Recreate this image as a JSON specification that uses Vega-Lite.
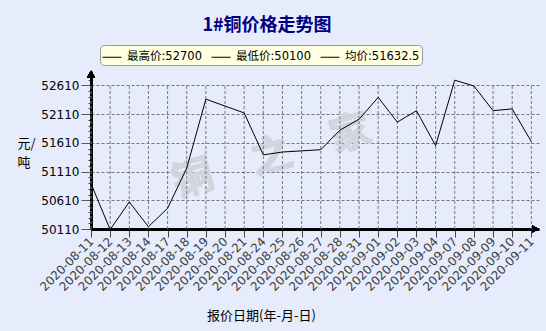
{
  "$schema": "https://vega.github.io/schema/vega-lite/v6.json",
  "width": 448,
  "height": 158,
  "autosize": {"type": "none"},
  "padding": {"left": 91, "top": 71, "right": 7, "bottom": 102},
  "background": "#e6ecfb",
  "config": {
    "view": {"stroke": null},
    "font": "DejaVu Sans, Noto Sans CJK SC"
  },
  "title": {
    "text": "1#铜价格走势图",
    "font": "Noto Sans CJK SC",
    "fontSize": 18,
    "fontWeight": "bold",
    "color": "#000080",
    "anchor": "middle",
    "dx": -48,
    "offset": 10
  },
  "data": {
    "values": [
      {"date": "2020-08-11", "price": 50900},
      {"date": "2020-08-12", "price": 50100},
      {"date": "2020-08-13", "price": 50580},
      {"date": "2020-08-14", "price": 50150},
      {"date": "2020-08-17", "price": 50470},
      {"date": "2020-08-18", "price": 51170},
      {"date": "2020-08-19", "price": 52370},
      {"date": "2020-08-20", "price": 52250},
      {"date": "2020-08-21", "price": 52130},
      {"date": "2020-08-24", "price": 51400},
      {"date": "2020-08-25", "price": 51450},
      {"date": "2020-08-26", "price": 51470},
      {"date": "2020-08-27", "price": 51490},
      {"date": "2020-08-28", "price": 51830},
      {"date": "2020-08-31", "price": 52020},
      {"date": "2020-09-01", "price": 52400},
      {"date": "2020-09-02", "price": 51970},
      {"date": "2020-09-03", "price": 52170},
      {"date": "2020-09-04", "price": 51560},
      {"date": "2020-09-07", "price": 52700},
      {"date": "2020-09-08", "price": 52600},
      {"date": "2020-09-09", "price": 52170},
      {"date": "2020-09-10", "price": 52200},
      {"date": "2020-09-11", "price": 51630}
    ]
  },
  "resolve": {"axis": {"y": "independent"}},
  "layer": [
    {
      "mark": {"type": "text", "text": "铜　之　家", "angle": 344, "fontSize": 41, "font": "Noto Sans CJK SC", "fontWeight": "bold", "fill": "#d2d5de", "opacity": 1, "dx": 9, "align": "center", "baseline": "middle"},
      "encoding": {
        "x": {"datum": "2020-08-24", "type": "ordinal"},
        "y": {"datum": 51310, "type": "quantitative", "axis": null}
      }
    },
    {
      "mark": {"type": "rule", "color": "#777777", "strokeDash": [3, 2], "strokeWidth": 1},
      "encoding": {
        "x": {
          "field": "date", "type": "ordinal",
          "scale": {"type": "point", "padding": 0.2, "align": 0},
          "axis": {
            "title": "报价日期(年-月-日)",
            "titleFont": "Noto Sans CJK SC",
            "titleFontSize": 13,
            "titleFontWeight": "normal",
            "titleColor": "#000000",
            "titleX": 170,
            "titleY": 90,
            "titleBaseline": "alphabetic",
            "labelAngle": -45,
            "labelAlign": "right",
            "labelBaseline": "middle",
            "labelFontSize": 12,
            "labelColor": "#404040",
            "labelPadding": 2,
            "labelOverlap": false,
            "tickSize": 8,
            "tickColor": "#444444",
            "domainColor": "#000000",
            "domainWidth": 3,
            "grid": false
          }
        },
        "y": {"datum": 50110, "type": "quantitative", "axis": {
          "orient": "left",
          "values": [50110, 50210, 50310, 50410, 50510, 50610, 50710, 50810, 50910, 51010, 51110, 51210, 51310, 51410, 51510, 51610, 51710, 51810, 51910, 52010, 52110, 52210, 52310, 52410, 52510, 52610, 52710, 52810],
          "labels": false, "ticks": true, "tickSize": 3, "tickColor": "#444444", "grid": false, "domain": false, "title": null
        }},
        "y2": {"datum": 52610}
      }
    },
    {
      "mark": {"type": "line", "strokeWidth": 1, "color": "#000000"},
      "encoding": {
        "x": {"field": "date", "type": "ordinal"},
        "y": {
          "field": "price", "type": "quantitative",
          "scale": {"domain": [50110, 52860], "nice": false, "zero": false},
          "axis": {
            "orient": "left",
            "values": [50110, 50610, 51110, 51610, 52110, 52610],
            "format": "d",
            "grid": true,
            "gridDash": [3, 2],
            "gridColor": "#777777",
            "labelFontSize": 12,
            "labelColor": "#000000",
            "labelPadding": 2,
            "tickSize": 10,
            "tickColor": "#555555",
            "domainColor": "#000000",
            "domainWidth": 3,
            "title": ["元/", "吨"],
            "titleFont": "Noto Sans CJK SC",
            "titleFontSize": 13,
            "titleFontWeight": "normal",
            "titleColor": "#000000",
            "titleAngle": 0,
            "titleAlign": "left",
            "titleBaseline": "alphabetic",
            "titleX": -74,
            "titleY": 76,
            "titleLineHeight": 19
          }
        },
        "color": {
          "datum": "最高价:52700",
          "scale": {"domain": ["最高价:52700", "最低价:50100", "均价:51632.5"], "range": ["#000000", "#000000", "#000000"]},
          "legend": {
            "title": null,
            "orient": "none",
            "legendX": 9,
            "legendY": -26,
            "direction": "horizontal",
            "columns": 3,
            "symbolType": "stroke",
            "symbolSize": 361,
            "symbolStrokeWidth": 1,
            "symbolStrokeColor": "#000000",
            "labelFontSize": 11.5,
            "labelColor": "#000000",
            "labelOffset": 5,
            "columnPadding": 7,
            "padding": 2,
            "fillColor": "#ffffe1",
            "strokeColor": "#999999",
            "cornerRadius": 4
          }
        }
      }
    },
    {
      "mark": {"type": "point", "shape": "triangle-up", "filled": true, "color": "#000000", "size": 60, "opacity": 1, "yOffset": 3},
      "encoding": {
        "x": {"datum": "2020-08-11", "type": "ordinal"},
        "y": {"datum": 52860, "type": "quantitative", "axis": null}
      }
    },
    {
      "mark": {"type": "point", "shape": "triangle-right", "filled": true, "color": "#000000", "size": 60, "opacity": 1, "xOffset": 4},
      "encoding": {
        "x": {"datum": "2020-09-11", "type": "ordinal"},
        "y": {"datum": 50110, "type": "quantitative", "axis": null}
      }
    }
  ]
}
